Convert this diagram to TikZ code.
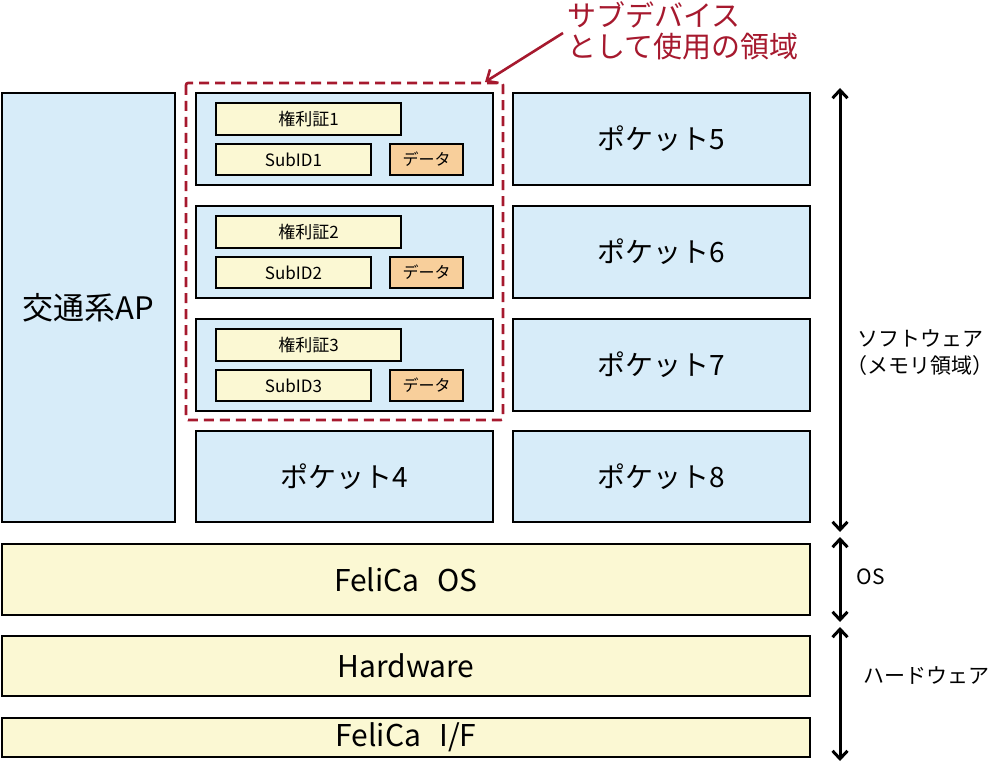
\documentclass[tikz,border=0pt]{standalone}
\usepackage{fontspec}
\setmainfont{Noto Sans CJK JP}
\usetikzlibrary{arrows.meta}
\definecolor{lblue}{HTML}{D7ECF9}
\definecolor{lyellow}{HTML}{FBF8D3}
\definecolor{lorange}{HTML}{F8CF9B}
\definecolor{dred}{HTML}{A6192E}
\begin{document}
\begin{tikzpicture}[x=1pt,y=-1pt,
  box/.style={draw=black,line width=2.6pt,inner sep=0pt,anchor=center},
  bluebox/.style={box,fill=lblue,font=\fontsize{28}{30}\selectfont},
  yelbox/.style={box,fill=lyellow,font=\fontsize{30}{32}\selectfont},
  smallbox/.style={draw=black,line width=2.2pt,inner sep=0pt,fill=lyellow,font=\fontsize{17}{18}\selectfont},
  databox/.style={draw=black,line width=2.2pt,inner sep=0pt,fill=lorange,font=\fontsize{16}{18}\selectfont},
  dim/.style={line width=3pt,{Straight Barb[length=8pt,width=15pt]}-{Straight Barb[length=8pt,width=15pt]}},
  lbl/.style={font=\fontsize{21}{27}\selectfont,align=center}
]
\useasboundingbox (0,0) rectangle (1000,762);
% left column
\node[bluebox,minimum width=173pt,minimum height=429pt,font=\fontsize{31}{33}\selectfont] (ap) at (88.5,307.5) {交通系AP};
% middle column
\foreach \i/\y in {1/139,2/252,3/365}{
  \node[bluebox,minimum width=297pt,minimum height=92pt] (m\i) at (344.5,\y) {};
  \node[smallbox,minimum width=185pt,minimum height=32pt] (k\i) at (308.5,\y-20) {権利証\i};
  \node[smallbox,minimum width=155pt,minimum height=31pt] (s\i) at (293.5,\y+20.5) {SubID\i};
  \node[databox,minimum width=73pt,minimum height=31pt] (d\i) at (426.5,\y+20.5) {データ};
}
\node[bluebox,minimum width=297pt,minimum height=91pt] (p4) at (344.5,476.5) {ポケット4};
% right column
\node[bluebox,minimum width=297pt,minimum height=92pt] (p5) at (661.5,139) {ポケット5};
\node[bluebox,minimum width=297pt,minimum height=92pt] (p6) at (661.5,252) {ポケット6};
\node[bluebox,minimum width=297pt,minimum height=92pt] (p7) at (661.5,365) {ポケット7};
\node[bluebox,minimum width=297pt,minimum height=91pt] (p8) at (661.5,476.5) {ポケット8};
% bottom layers
\node[yelbox,minimum width=808pt,minimum height=71pt] (os) at (406,579.5) {FeliCa\hspace{0.6em}OS};
\node[yelbox,minimum width=808pt,minimum height=60pt] (hw) at (406,666) {Hardware};
\node[yelbox,minimum width=808pt,minimum height=39pt] (if) at (406,737.5) {FeliCa\hspace{0.6em}I/F};
% dashed sub-device region
\draw[dred,line width=2.6pt,dash pattern=on 10pt off 6pt,rounded corners=2pt] (186,83) rectangle (503,420);
\node[text=dred,font=\fontsize{29}{31}\selectfont,align=left,anchor=north west,inner sep=0pt] (sub) at (567,1) {サブデバイス\\として使用の領域};
\coordinate (a1) at (563,33);
\coordinate (a2) at (485,82);
\draw[dred,line width=2.6pt,-{Straight Barb[length=9pt,width=16pt]}] (a1) -- (a2);
% dimension arrows
\coordinate (sw1) at (840,88);
\coordinate (sw2) at (840,532);
\coordinate (os1) at (840,537);
\coordinate (os2) at (840,622);
\coordinate (hw1) at (840,627);
\coordinate (hw2) at (840,761);
\draw[dim] (sw1) -- (sw2);
\draw[dim] (os1) -- (os2);
\draw[dim] (hw1) -- (hw2);
\node[lbl] (swl) at (920,353) {ソフトウェア\\（メモリ領域）};
\node[lbl,anchor=west] (osl) at (853,577) {OS};
\node[lbl,anchor=west] (hwl) at (860,676) {ハードウェア};
\end{tikzpicture}
\end{document}
